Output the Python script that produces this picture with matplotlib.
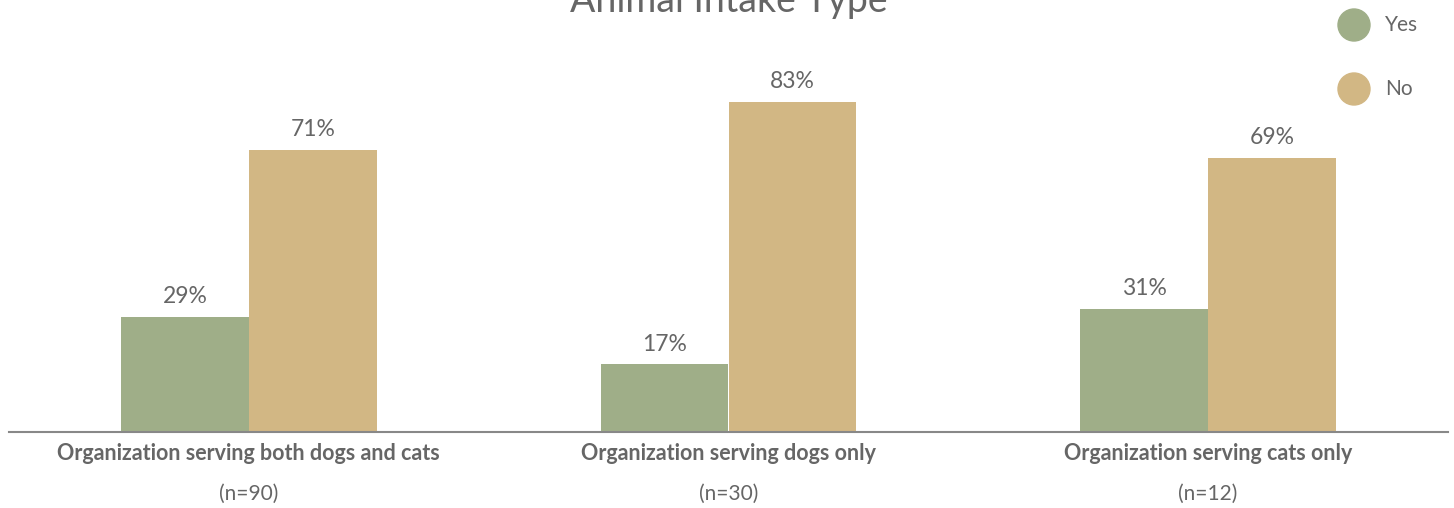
import numpy as np
import matplotlib.pyplot as plt
from matplotlib.patches import Ellipse

plt.rcParams['font.family'] = ['Lato', 'DejaVu Sans']

categories = ['Organization serving both dogs and cats',
              'Organization serving dogs only',
              'Organization serving cats only']
sample_sizes = ['(n=90)', '(n=30)', '(n=12)']
yes_pct = [29, 17, 31]
no_pct = [71, 83, 69]

green = '#9fae88'
tan = '#d2b784'
txt = '#666666'

W, H = 1454, 508
fig = plt.figure(figsize=(W / 100, H / 100), dpi=100)
ax = fig.add_axes([9 / W, 76 / H, 1439 / W, 397.6 / H])

x = np.arange(len(categories))
w = 128 / 480
b1 = ax.bar(x - w / 2, yes_pct, w, color=green, label='Yes')
b2 = ax.bar(x + w / 2, no_pct, w, color=tan, label='No')

for bars, vals in [(b1, yes_pct), (b2, no_pct)]:
    for r, v in zip(bars, vals):
        ax.annotate(f'{v}%', (r.get_x() + r.get_width() / 2, v),
                    xytext=(0, 7), textcoords='offset points',
                    ha='center', va='bottom', fontsize=16.5, color=txt)

ax.set_xlim(-0.5, 2.5)
ax.set_ylim(0, 100)
ax.set_yticks([])
ax.set_xticks([])
for xi, c, n in zip(x, categories, sample_sizes):
    ax.text(xi, -5.3, c, ha='center', va='center', fontsize=15.5,
            fontweight='bold', color=txt)
    ax.text(xi, -15.6, n, ha='center', va='center', fontsize=15, color=txt)

for s in ['top', 'right', 'left']:
    ax.spines[s].set_visible(False)
ax.spines['bottom'].set_color('#888888')
ax.spines['bottom'].set_linewidth(1.5)

fig.text(729 / W, 1 - 1 / H, 'Animal Intake Type', ha='center',
         va='center', fontsize=27, color=txt)

# legend drawn as circles in figure coords
for yy, col, lab in [(25, green, 'Yes'), (89, tan, 'No')]:
    fig.add_artist(Ellipse((1354 / W, 1 - yy / H), 32 / W, 32 / H,
                           color=col, transform=fig.transFigure))
    fig.text(1385 / W, 1 - yy / H, lab, ha='left', va='center',
             fontsize=15, color=txt)

fig.savefig('out.png', dpi=100)
